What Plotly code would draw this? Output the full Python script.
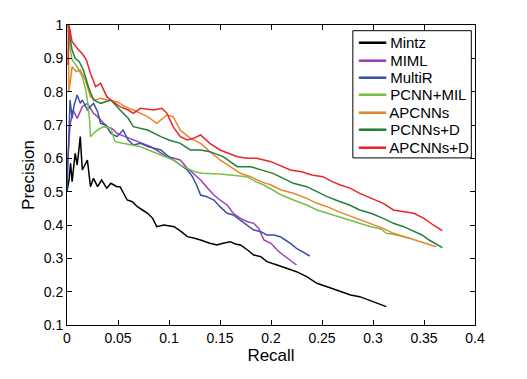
import plotly.graph_objects as go

# Mintz
mintz_r = [0.0, 0.002, 0.0035, 0.005, 0.008, 0.010, 0.012, 0.013, 0.015, 0.018, 0.020, 0.023, 0.026, 0.030,
           0.034, 0.039, 0.043, 0.046, 0.049, 0.052, 0.059, 0.064, 0.069, 0.074, 0.079, 0.084, 0.088, 0.095,
           0.105, 0.112, 0.118, 0.125, 0.131, 0.140, 0.147, 0.153, 0.160, 0.165, 0.170, 0.177, 0.183, 0.190,
           0.196, 0.206, 0.215, 0.225, 0.235, 0.245, 0.255, 0.268, 0.278, 0.287, 0.300, 0.313]
mintz_p = [0.50, 0.535, 0.585, 0.53, 0.615, 0.58, 0.635, 0.665, 0.565, 0.585, 0.595, 0.515, 0.54, 0.515,
           0.535, 0.51, 0.525, 0.52, 0.515, 0.515, 0.475, 0.47, 0.455, 0.445, 0.435, 0.42, 0.395, 0.40,
           0.395, 0.38, 0.365, 0.36, 0.355, 0.345, 0.34, 0.345, 0.35, 0.343, 0.34, 0.325, 0.31, 0.305,
           0.29, 0.28, 0.27, 0.26, 0.245, 0.225, 0.215, 0.20, 0.19, 0.185, 0.17, 0.155]

# MIML
miml_r = [0.0, 0.003, 0.006, 0.010, 0.015, 0.020, 0.023, 0.026, 0.030, 0.033, 0.039, 0.044, 0.049, 0.057,
          0.065, 0.073, 0.082, 0.090, 0.098, 0.105, 0.111, 0.118, 0.124, 0.131, 0.138, 0.144, 0.150, 0.157,
          0.163, 0.170, 0.177, 0.183, 0.188, 0.193, 0.200, 0.206, 0.212, 0.218, 0.225]
miml_p = [0.56, 0.70, 0.745, 0.72, 0.755, 0.765, 0.75, 0.735, 0.725, 0.715, 0.695, 0.69, 0.675, 0.665,
          0.655, 0.645, 0.635, 0.62, 0.605, 0.60, 0.595, 0.57, 0.555, 0.535, 0.51, 0.49, 0.475, 0.46,
          0.435, 0.42, 0.41, 0.405, 0.39, 0.355, 0.345, 0.325, 0.31, 0.295, 0.28]

# MultiR
multir_r = [0.0, 0.001, 0.002, 0.003, 0.005, 0.007, 0.010, 0.013, 0.015, 0.020, 0.026, 0.030, 0.033, 0.038,
            0.043, 0.049, 0.055, 0.060, 0.065, 0.072, 0.080, 0.086, 0.092, 0.098, 0.104, 0.111, 0.118, 0.123,
            0.127, 0.131, 0.137, 0.144, 0.150, 0.157, 0.163, 0.170, 0.177, 0.183, 0.190, 0.196, 0.203, 0.209,
            0.214, 0.219, 0.225, 0.232, 0.238]
multir_p = [0.50, 0.62, 0.70, 0.775, 0.72, 0.76, 0.79, 0.765, 0.775, 0.745, 0.765, 0.74, 0.705, 0.70,
            0.675, 0.665, 0.685, 0.655, 0.64, 0.645, 0.635, 0.63, 0.625, 0.61, 0.595, 0.58, 0.565, 0.545,
            0.52, 0.49, 0.485, 0.475, 0.455, 0.435, 0.43, 0.415, 0.40, 0.385, 0.38, 0.37, 0.37, 0.365,
            0.355, 0.345, 0.33, 0.318, 0.307]

# PCNN+MIL
pcnnmil_r = [0.001, 0.003, 0.005, 0.010, 0.015, 0.018, 0.020, 0.022, 0.023, 0.026, 0.030, 0.036, 0.043,
             0.047, 0.055, 0.063, 0.072, 0.080, 0.088, 0.096, 0.104, 0.111, 0.118, 0.125, 0.133, 0.140,
             0.150, 0.160, 0.168, 0.176, 0.185, 0.193, 0.200, 0.210, 0.222, 0.235, 0.245, 0.255, 0.265,
             0.276, 0.287, 0.298, 0.308, 0.313, 0.320, 0.328, 0.336]
pcnnmil_p = [1.0, 0.93, 0.895, 0.875, 0.845, 0.81, 0.775, 0.72, 0.665, 0.675, 0.685, 0.695, 0.69,
             0.65, 0.645, 0.64, 0.635, 0.625, 0.615, 0.605, 0.595, 0.58, 0.57, 0.56, 0.555, 0.555,
             0.553, 0.55, 0.548, 0.545, 0.53, 0.52, 0.508, 0.49, 0.475, 0.46, 0.445, 0.435, 0.425,
             0.415, 0.405, 0.395, 0.388, 0.375, 0.372, 0.366, 0.36]

# APCNNs
apcnns_r = [0.001, 0.002, 0.005, 0.009, 0.013, 0.018, 0.023, 0.028, 0.033, 0.039, 0.049, 0.057, 0.065,
            0.072, 0.079, 0.088, 0.094, 0.098, 0.104, 0.111, 0.121, 0.131, 0.140, 0.150, 0.160, 0.170,
            0.180, 0.190, 0.200, 0.210, 0.222, 0.235, 0.245, 0.255, 0.266, 0.277, 0.287, 0.298, 0.310,
            0.320, 0.330, 0.340, 0.350, 0.362]
apcnns_p = [1.0, 0.80, 0.875, 0.86, 0.865, 0.835, 0.785, 0.775, 0.78, 0.775, 0.77, 0.755, 0.745,
            0.735, 0.725, 0.705, 0.72, 0.73, 0.725, 0.685, 0.66, 0.645, 0.62, 0.595, 0.575, 0.555,
            0.545, 0.53, 0.52, 0.505, 0.495, 0.48, 0.465, 0.455, 0.44, 0.428, 0.415, 0.405, 0.39,
            0.375, 0.365, 0.355, 0.345, 0.335]

# PCNNs+D
pcnnsd_r = [0.002, 0.003, 0.005, 0.008, 0.012, 0.016, 0.021, 0.026, 0.033, 0.038, 0.043, 0.052, 0.060,
            0.065, 0.072, 0.079, 0.092, 0.100, 0.111, 0.121, 0.131, 0.140, 0.153, 0.160, 0.167, 0.180,
            0.190, 0.202, 0.212, 0.222, 0.235, 0.245, 0.255, 0.266, 0.277, 0.287, 0.298, 0.310, 0.320,
            0.330, 0.340, 0.348, 0.355, 0.362, 0.368]
pcnnsd_p = [1.0, 0.96, 0.925, 0.90, 0.89, 0.865, 0.815, 0.775, 0.765, 0.77, 0.775, 0.745, 0.72,
            0.695, 0.69, 0.685, 0.665, 0.655, 0.645, 0.625, 0.625, 0.62, 0.605, 0.59, 0.575, 0.575,
            0.565, 0.555, 0.54, 0.525, 0.515, 0.50, 0.485, 0.472, 0.46, 0.445, 0.435, 0.42, 0.405,
            0.395, 0.38, 0.37, 0.355, 0.343, 0.332]

# APCNNs+D
apcnnsd_r = [0.001, 0.002, 0.005, 0.010, 0.016, 0.019, 0.023, 0.028, 0.033, 0.039, 0.045, 0.052, 0.060,
             0.065, 0.072, 0.085, 0.093, 0.098, 0.104, 0.111, 0.118, 0.124, 0.131, 0.140, 0.150, 0.158,
             0.167, 0.177, 0.186, 0.200, 0.210, 0.219, 0.230, 0.240, 0.251, 0.260, 0.268, 0.278, 0.287,
             0.298, 0.310, 0.320, 0.330, 0.340, 0.350, 0.359, 0.368]
apcnnsd_p = [0.88, 1.0, 0.95, 0.93, 0.91, 0.895, 0.855, 0.815, 0.825, 0.785, 0.77, 0.755, 0.745,
             0.735, 0.75, 0.745, 0.75, 0.735, 0.695, 0.665, 0.655, 0.66, 0.67, 0.645, 0.625, 0.615,
             0.605, 0.60, 0.60, 0.59, 0.578, 0.565, 0.56, 0.55, 0.545, 0.53, 0.52, 0.51, 0.495,
             0.48, 0.465, 0.445, 0.44, 0.435, 0.42, 0.40, 0.383]

names = ["Mintz", "MIML", "MultiR", "PCNN+MIL", "APCNNs", "PCNNs+D", "APCNNs+D"]
colors = ["#000000", "#9A40B0", "#3A4FA8", "#78C046", "#E5862E", "#23803A", "#E8262A"]
recalls = [mintz_r, miml_r, multir_r, pcnnmil_r, apcnns_r, pcnnsd_r, apcnnsd_r]
precisions = [mintz_p, miml_p, multir_p, pcnnmil_p, apcnns_p, pcnnsd_p, apcnnsd_p]

x_ticks = [0, 0.05, 0.1, 0.15, 0.2, 0.25, 0.3, 0.35, 0.4]
x_tick_text = ["0", "0.05", "0.1", "0.15", "0.2", "0.25", "0.3", "0.35", "0.4"]
y_ticks = [0.1, 0.2, 0.3, 0.4, 0.5, 0.6, 0.7, 0.8, 0.9, 1.0]
y_tick_text = ["0.1", "0.2", "0.3", "0.4", "0.5", "0.6", "0.7", "0.8", "0.9", "1"]

fam = "Liberation Sans, Arial, sans-serif"

fig = go.Figure()
for name, r, p, c in zip(names, recalls, precisions, colors):
    fig.add_trace(go.Scatter(x=r, y=p, mode="lines", name=name, showlegend=False,
                             line=dict(color=c, width=1.5)))

# compact MATLAB-style legend box (layout in paper units)
box_x0, box_x1, box_y0, box_y1 = 0.7006, 0.991, 0.557, 0.981
fig.add_shape(type="rect", xref="paper", yref="paper",
              x0=box_x0, x1=box_x1, y0=box_y0, y1=box_y1,
              line=dict(color="black", width=1), fillcolor="white", layer="above")
row_top, row_step = 0.941, 0.058
for i, (n, c) in enumerate(zip(names, colors)):
    fig.add_annotation(
        xref="paper", yref="paper", x=0.7075, y=row_top - i * row_step,
        xanchor="left", yanchor="middle", showarrow=False,
        text=f'<span style="color:{c}">━━━</span> {n}',
        font=dict(family=fam, size=15, color="#000000"),
    )

fig.update_layout(
    width=519, height=371,
    margin=dict(l=59, r=52, t=17, b=54, autoexpand=False),
    paper_bgcolor="white", plot_bgcolor="white",
    font=dict(family=fam, size=14, color="#000000"),
    showlegend=False,
)
fig.update_xaxes(range=[0, 0.4], tickvals=x_ticks, ticktext=x_tick_text, automargin=False,
                 showline=True, linecolor="black", linewidth=1, mirror="ticks",
                 ticks="inside", ticklen=5, tickcolor="black", showgrid=False, zeroline=False,
                 title=dict(text="Recall", standoff=0))
fig.update_yaxes(range=[0.1, 1.0], tickvals=y_ticks, ticktext=y_tick_text, automargin=False,
                 showline=True, linecolor="black", linewidth=1, mirror="ticks",
                 ticks="inside", ticklen=5, tickcolor="black", showgrid=False, zeroline=False,
                 title=dict(text="Precision", standoff=4))

fig.write_html("out.html")
